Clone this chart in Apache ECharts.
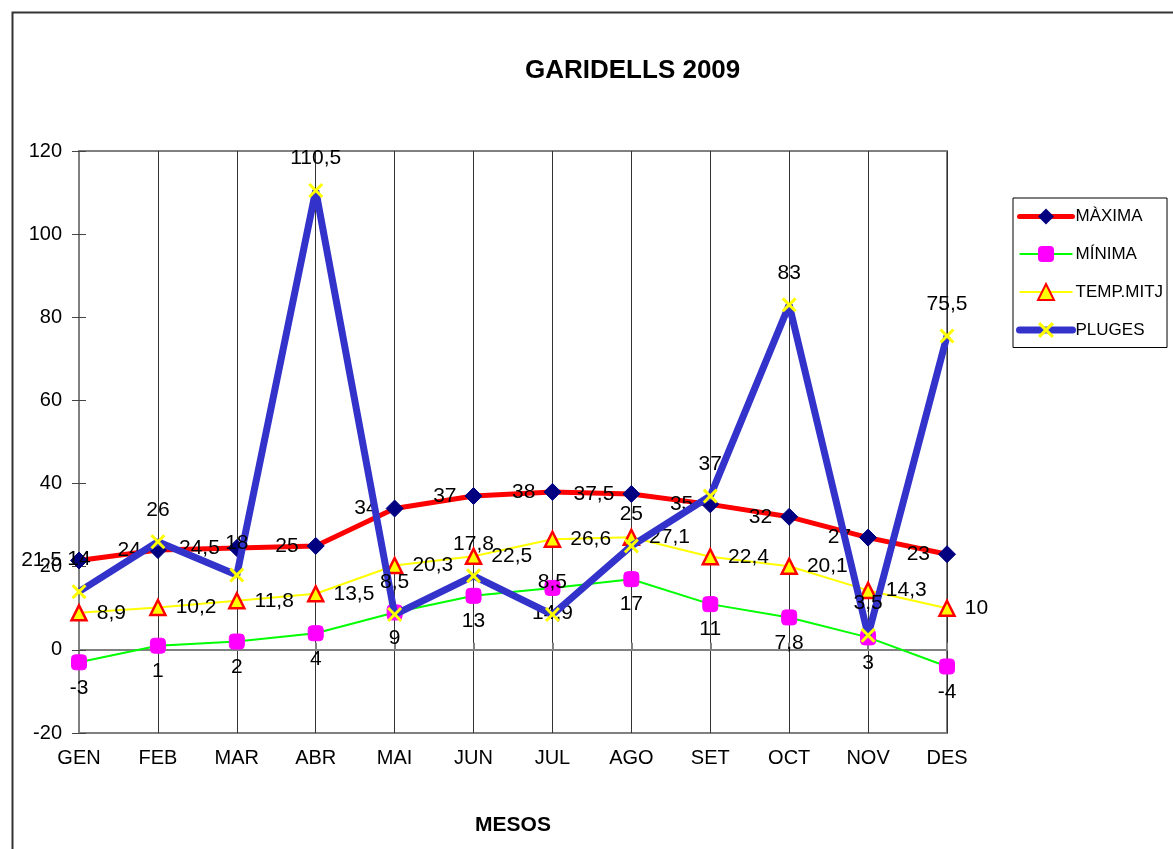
<!DOCTYPE html>
<html>
<head>
<meta charset="utf-8">
<script src="https://cdn.jsdelivr.net/npm/echarts@6/dist/echarts.min.js"></script>
<style>
html,body{margin:0;padding:0;background:#fff;}
#c{width:1173px;height:849px;}
</style>
</head>
<body>
<div id="c"></div>
<script>
const months = ['GEN','FEB','MAR','ABR','MAI','JUN','JUL','AGO','SET','OCT','NOV','DES'];
const maxima = [21.5, 24, 24.5, 25, 34, 37, 38, 37.5, 35, 32, 27, 23];
const minima = [-3, 1, 2, 4, 9, 13, 14.9, 17, 11, 7.8, 3, -4];
const tempMitj = [8.9, 10.2, 11.8, 13.5, 20.3, 22.5, 26.6, 27.1, 22.4, 20.1, 14.3, 10];
const pluges = [14, 26, 18, 110.5, 8.5, 17.8, 8.5, 25, 37, 83, 3.5, 75.5];
const yMin = -20, yMax = 120, yStep = 20;

const FONT = 'Liberation Sans, Arial, sans-serif';
const fmt = p => String(p.value).replace('.', ',');
const lbl = (pos, dist) => ({show:true, position:pos, distance:dist, color:'#000', fontSize:21, fontFamily:FONT, formatter:fmt});
const xSymbol = 'path://M0,1.4 L1.4,0 L5,3.6 L8.6,0 L10,1.4 L6.4,5 L10,8.6 L8.6,10 L5,6.4 L1.4,10 L0,8.6 L3.6,5 Z';

const chart = echarts.init(document.getElementById('c'), null, {renderer:'canvas'});
chart.setOption({
  backgroundColor:'#fff',
  animation:false,
  textStyle:{fontFamily:FONT},
  title:{
    text:'GARIDELLS 2009', left:520, top:53,
    textStyle:{fontSize:26, fontWeight:'bold', color:'#000', fontFamily:FONT}
  },
  graphic:[{
    type:'rect', left:10, top:10, silent:true, z:-10,
    shape:{x:0,y:0,width:1200,height:900},
    style:{fill:'none', stroke:'#333', lineWidth:2}
  }],
  legend:{
    orient:'vertical', left:1013, top:198,
    padding:[10,4,9,3], itemGap:20.5,
    itemWidth:53, itemHeight:20,
    backgroundColor:'#fff', borderColor:'#000', borderWidth:1,
    textStyle:{fontSize:17, color:'#000', fontFamily:FONT, padding:[0,0,0,-2]},
    data:[
      {name:'MÀXIMA', lineStyle:{width:5, cap:'round'}},
      {name:'MÍNIMA', lineStyle:{width:2}},
      {name:'TEMP.MITJ', lineStyle:{width:2}},
      {name:'PLUGES', lineStyle:{width:7, cap:'round'}}
    ]
  },
  grid:{left:79, right:226, top:151, bottom:116, show:true, borderColor:'#808080', borderWidth:2, containLabel:false},
  xAxis:[{
    type:'category', data:months, boundaryGap:false, position:'bottom',
    axisLine:{show:false, onZero:false}, axisTick:{show:false},
    axisLabel:{fontSize:20, color:'#000', margin:15, fontFamily:FONT},
    splitLine:{show:true, lineStyle:{color:'#333', width:1}},
    name:'MESOS', nameLocation:'middle', nameGap:82,
    nameTextStyle:{fontSize:21, fontWeight:'bold', color:'#000', fontFamily:FONT}
  },{
    type:'category', data:months, boundaryGap:false, position:'bottom',
    axisLine:{show:true, onZero:true, lineStyle:{color:'#808080', width:2}},
    axisTick:{show:true, length:7, inside:true, lineStyle:{color:'#808080', width:2}},
    axisLabel:{show:false}, splitLine:{show:false}
  }],
  yAxis:[{
    type:'value', min:yMin, max:yMax, interval:yStep, position:'left',
    axisLine:{show:true, onZero:false, lineStyle:{color:'#808080', width:2}},
    axisTick:{show:true, length:7, lineStyle:{color:'#444', width:1}},
    axisLabel:{fontSize:20, color:'#000', margin:17, fontFamily:FONT},
    splitLine:{show:false}
  },{
    type:'value', min:yMin, max:yMax, interval:yStep, position:'left',
    axisLine:{show:false, onZero:false},
    axisTick:{show:true, inside:true, length:7, lineStyle:{color:'#444', width:1}},
    axisLabel:{show:false}, splitLine:{show:false}
  }],
  series:[{
    name:'MÀXIMA', type:'line', data:maxima, xAxisIndex:0, yAxisIndex:0,
    symbol:'diamond', symbolSize:17,
    lineStyle:{color:'#ff0000', width:5},
    itemStyle:{color:'#000080', borderColor:'#000080'},
    label:lbl('left', 8), z:3
  },{
    name:'MÍNIMA', type:'line', data:minima, xAxisIndex:0, yAxisIndex:0,
    symbol:'roundRect', symbolSize:15,
    lineStyle:{color:'#00ff00', width:2},
    itemStyle:{color:'#ff00ff', borderColor:'#ff00ff'},
    label:lbl('bottom', 7), z:3
  },{
    name:'TEMP.MITJ', type:'line', data:tempMitj, xAxisIndex:0, yAxisIndex:0,
    symbol:'triangle', symbolSize:15,
    lineStyle:{color:'#ffff00', width:2},
    itemStyle:{color:'#ffff00', borderColor:'#ff0000', borderWidth:2.5},
    label:lbl('right', 9), z:3
  },{
    name:'PLUGES', type:'line', data:pluges, xAxisIndex:0, yAxisIndex:0,
    symbol:xSymbol, symbolSize:15,
    lineStyle:{color:'#3333cc', width:7},
    itemStyle:{color:'#ffff00', borderWidth:0},
    label:lbl('top', 14), z:4
  }]
});
</script>
</body>
</html>
